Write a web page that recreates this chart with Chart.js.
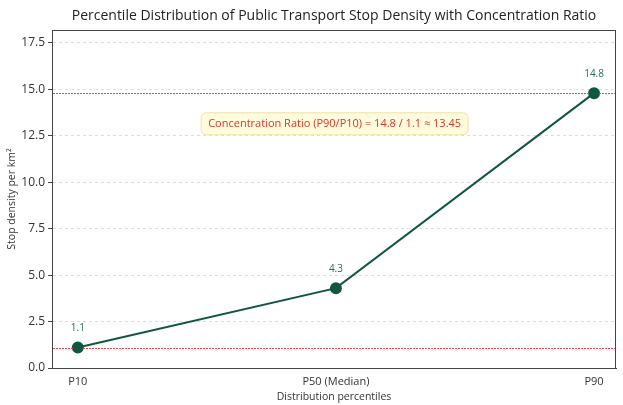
<!DOCTYPE html>
<html>
<head>
<meta charset="utf-8">
<script src="https://cdn.jsdelivr.net/npm/chart.js@4/dist/chart.umd.min.js"></script>
<style>
  html, body { margin: 0; padding: 0; background: #fff; }
  #wrap { width: 623px; height: 405px; }
</style>
</head>
<body>
<div id="wrap"><canvas id="c" width="623" height="405"></canvas></div>
<script>
const categories = ['P10', 'P50 (Median)', 'P90'];
const densityValues = [1.1, 4.3, 14.8];
const yTicks = [0, 2.5, 5, 7.5, 10, 12.5, 15, 17.5];
const chartTitle = 'Percentile Distribution of Public Transport Stop Density with Concentration Ratio';
const ratioText = 'Concentration Ratio (P90/P10) = 14.8 / 1.1 \u2248 13.45';

const FONT = "'Open Sans', 'DejaVu Sans', sans-serif";
const LINE = '#11573f';

// dotted red reference line across the plot at a given value
function refLine(ctx, a, y, v) {
  const py = Math.round(y.getPixelForValue(v));
  ctx.fillStyle = 'rgb(232, 71, 74)';
  for (let px = Math.round(a.left) + 1; px < a.right - 1; px += 3) {
    ctx.fillRect(px, py, 2, 1);
  }
}

const overlay = {
  id: 'overlay',
  afterDraw(chart) {
    const { ctx, chartArea: a, scales: { x, y } } = chart;
    ctx.save();
    // title centred over the plot area
    ctx.fillStyle = '#222';
    ctx.font = '14px ' + FONT;
    ctx.textAlign = 'center';
    ctx.textBaseline = 'middle';
    ctx.fillText(chartTitle, (a.left + a.right) / 2, 16);
    // reference lines for the lowest and highest percentile
    refLine(ctx, a, y, densityValues[0]);
    refLine(ctx, a, y, densityValues[densityValues.length - 1]);
    // redraw the markers above the reference lines
    const meta = chart.getDatasetMeta(0);
    meta.data.forEach(pt => {
      ctx.beginPath();
      ctx.arc(pt.x, pt.y, 5, 0, Math.PI * 2);
      ctx.fillStyle = LINE;
      ctx.fill();
    });
    // value labels
    ctx.fillStyle = '#2a6e55';
    ctx.font = '10px ' + FONT;
    ctx.textBaseline = 'bottom';
    densityValues.forEach((v, i) => {
      ctx.fillText(String(v), x.getPixelForValue(i), y.getPixelForValue(v) - 14);
    });
    // ratio box
    const cx = x.getPixelForValue(0.995), cy = y.getPixelForValue(13.15);
    ctx.font = '11px ' + FONT;
    const w = ctx.measureText(ratioText).width + 14, h = 22;
    ctx.beginPath();
    ctx.roundRect(cx - w / 2, cy - h / 2, w, h, 5);
    ctx.fillStyle = '#fffbdc';
    ctx.fill();
    ctx.strokeStyle = '#ece3a8';
    ctx.lineWidth = 1;
    ctx.stroke();
    ctx.fillStyle = '#d13a2e';
    ctx.textBaseline = 'middle';
    ctx.fillText(ratioText, cx, cy + 0.5);
    // frame
    ctx.strokeStyle = '#444';
    ctx.lineWidth = 1;
    ctx.strokeRect(Math.round(a.left) + 0.5, Math.round(a.top) + 0.5,
      Math.round(a.right - a.left) - 1, Math.round(a.bottom - a.top));
    ctx.restore();
  }
};

new Chart(document.getElementById('c'), {
  type: 'line',
  data: {
    datasets: [{
      data: densityValues.map((v, i) => ({ x: i, y: v })),
      borderColor: LINE,
      backgroundColor: LINE,
      borderWidth: 2,
      pointRadius: 5,
      pointHoverRadius: 5,
      tension: 0
    }]
  },
  options: {
    responsive: false,
    animation: false,
    layout: { padding: { top: 30, right: 1, left: 2, bottom: 0 } },
    plugins: {
      legend: { display: false },
      tooltip: { enabled: false },
      title: { display: false }
    },
    scales: {
      x: {
        type: 'linear',
        min: -0.1, max: 2.085,
        afterBuildTicks(s) { s.ticks = categories.map((_, i) => ({ value: i })); },
        afterFit(s) { s.height = 37; },
        ticks: {
          callback: v => categories[v] ?? '',
          color: '#333', font: { family: FONT, size: 11 }, padding: 3,
          autoSkip: false, maxRotation: 0
        },
        grid: { display: false, drawTicks: true, tickLength: 4 },
        border: { color: '#444' },
        title: { display: true, text: 'Distribution percentiles', color: '#333',
          font: { family: FONT, size: 10.5 }, padding: { top: 0, bottom: 2 } }
      },
      y: {
        min: 0, max: 18.2,
        afterBuildTicks(s) { s.ticks = yTicks.map(v => ({ value: v })); },
        afterFit(s) { s.width = 50; },
        ticks: {
          callback: v => v.toFixed(1),
          color: '#333', font: { family: FONT, size: 12 }, padding: 3
        },
        grid: {
          color: '#dcdcdc', tickColor: '#444', tickLength: 4
        },
        border: { color: '#444', dash: [3, 3] },
        title: { display: true, text: 'Stop density per km\u00b2', color: '#333',
          font: { family: FONT, size: 10.5 }, padding: { top: 4, bottom: 0 } }
      }
    }
  },
  plugins: [overlay]
});
</script>
</body>
</html>
